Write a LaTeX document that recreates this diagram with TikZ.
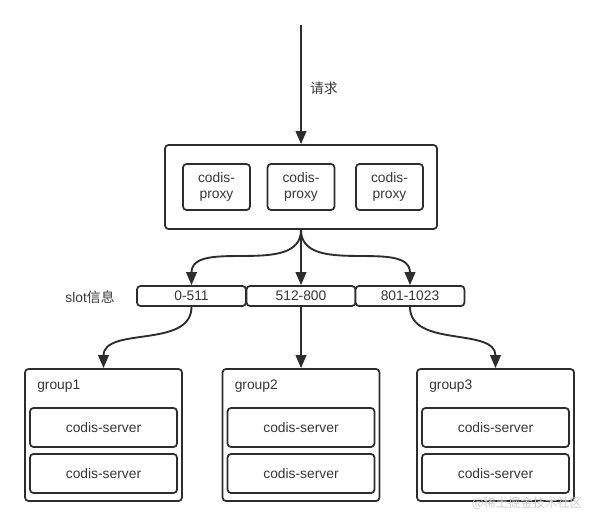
\documentclass[tikz,border=0pt]{standalone}
\usepackage{fontspec}
\setmainfont{Liberation Sans}
\newfontfamily\cjk{Noto Sans CJK SC}
\usetikzlibrary{arrows.meta}
\newcommand{\cdsize}{\fontsize{11.8}{14}\selectfont}
\definecolor{cdline}{RGB}{45,45,45}
\definecolor{cdtext}{RGB}{55,55,55}
\definecolor{cdmark}{RGB}{205,205,205}

\begin{document}
\begin{tikzpicture}[
  x=0.03cm, y=-0.03cm,
  >={Triangle[length=11pt,width=9pt]},
  font=\cdsize,
  text=cdtext,
  box/.style={draw=cdline, line width=1.5pt, fill=white, rounded corners=3pt, align=center, inner sep=0pt},
  outerbox/.style={box, minimum width=8.16cm, minimum height=2.52cm},
  proxybox/.style={box, minimum width=2.01cm, minimum height=1.38cm},
  slotbox/.style={box, minimum width=3.27cm, minimum height=0.6cm},
  groupbox/.style={box, minimum width=4.71cm, minimum height=3.96cm},
  serverbox/.style={box, minimum width=4.41cm, minimum height=1.17cm},
  edge/.style={->, line width=1.6pt, draw=cdline}
]
\useasboundingbox (0,0) rectangle (599,526);

% request and proxies
\coordinate (req) at (301,25);
\node[anchor=west] (reqlbl) at (306,88) {\cjk 请求};
\node[outerbox] (outer) at (301,187) {};
\node[proxybox] (proxy1) at (216.5,187) {codis-\\proxy};
\node[proxybox] (proxy2) at (301,187) {codis-\\proxy};
\node[proxybox] (proxy3) at (389.5,187) {codis-\\proxy};

% slots
\node (slotlbl) at (90,297) {slot{\cjk 信息}};
\node[slotbox] (slot1) at (191.5,296) {0-511};
\node[slotbox] (slot2) at (301,296) {512-800};
\node[slotbox] (slot3) at (410,296) {801-1023};

% groups
\foreach \i/\x in {1/103.5,2/301,3/495.5} {
  \node[groupbox] (group\i) at (\x,435) {};
  \node[anchor=west] (grouplbl\i) at ([xshift=0.27cm]group\i.west |- 0,386) {group\i};
  \node[serverbox] (server\i a) at (\x,427.5) {codis-server};
  \node[serverbox] (server\i b) at (\x,473.5) {codis-server};
}

\draw[edge] (req) -- (outer.north);
\draw[edge] (outer.south) to[out=-90,in=90] (slot1.north);
\draw[edge] (outer.south) -- (slot2.north);
\draw[edge] (outer.south) to[out=-90,in=90] (slot3.north);
\draw[edge] (slot1.south) to[out=-90,in=90] (group1.north);
\draw[edge] (slot2.south) -- (group2.north);
\draw[edge] (slot3.south) to[out=-90,in=90] (group3.north);

\node[text=cdmark, font=\fontsize{10.5}{12}\cjk] (mark) at (527,503) {@稀土掘金技术社区};
\end{tikzpicture}
\end{document}
